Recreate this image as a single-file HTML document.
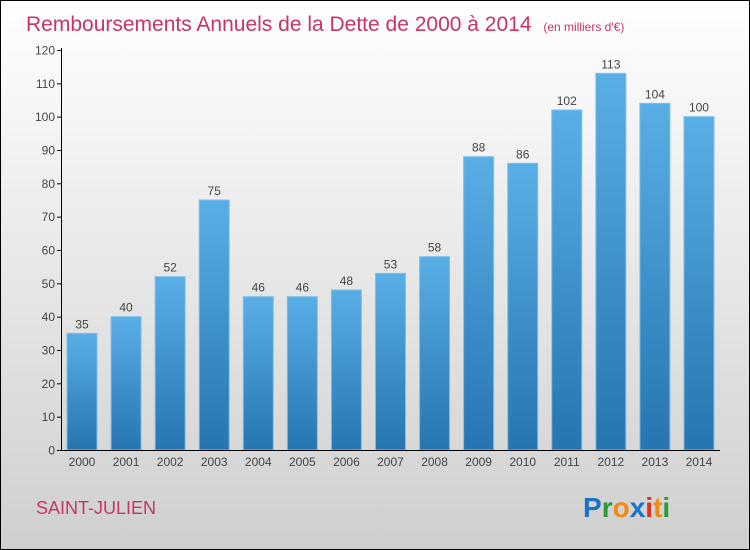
<!DOCTYPE html>
<html><head><meta charset="utf-8"><style>
body{margin:0}
svg{display:block;font-family:"Liberation Sans",sans-serif}
</style></head><body>
<svg width="750" height="550" viewBox="0 0 750 550">
<defs>
<linearGradient id="bg" x1="0" y1="0" x2="0" y2="1"><stop offset="0" stop-color="#ffffff"/><stop offset="1" stop-color="#cfcfcf"/></linearGradient>
<linearGradient id="bar" x1="0" y1="0" x2="0" y2="1"><stop offset="0" stop-color="#5aaee6"/><stop offset="1" stop-color="#2675b0"/></linearGradient>
</defs>
<rect x="0.5" y="0.5" width="749" height="549" fill="url(#bg)" stroke="#000"/>
<text x="26" y="31" font-size="21" fill="#c8336a">Remboursements Annuels de la Dette de 2000 à 2014 <tspan font-size="12" dx="6">(en milliers d'€)</tspan></text>
<g id="ticks"></g>
<g id="bars"></g>
<line x1="61.5" y1="48" x2="61.5" y2="450.5" stroke="#000"/>
<line x1="61" y1="450.5" x2="720" y2="450.5" stroke="#000"/>
<text x="36" y="514" font-size="18" fill="#c8336a">SAINT-JULIEN</text>
<text x="583" y="517" font-size="28" font-weight="bold"><tspan fill="#1a73c8">P</tspan><tspan fill="#2a9a3a">r</tspan><tspan fill="#f08a10">o</tspan><tspan fill="#1a73c8">x</tspan><tspan fill="#e03020">i</tspan><tspan fill="#f08a10">t</tspan><tspan fill="#2a9a3a">i</tspan></text>
</svg>
<script>
const years=["2000","2001","2002","2003","2004","2005","2006","2007","2008","2009","2010","2011","2012","2013","2014"];
const values=[35,40,52,75,46,46,48,53,58,88,86,102,113,104,100];
const yTicks=[0,10,20,30,40,50,60,70,80,90,100,110,120];
const NS="http://www.w3.org/2000/svg";
const y=v=>450-v*400/120;
const x=i=>82+i*44.07;
const tg=document.getElementById('ticks'),bg=document.getElementById('bars');
function mk(t,a,p){const e=document.createElementNS(NS,t);for(const k in a)e.setAttribute(k,a[k]);p.appendChild(e);return e;}
yTicks.forEach(t=>{
 const l=mk('line',{x1:57,x2:62,y1:y(t)+0.5,y2:y(t)+0.5,stroke:'#000'},tg);
 
 
 const tx=mk('text',{x:55,y:y(t)+4.5,'font-size':12,'text-anchor':'end',fill:'#444'},tg);
 tx.textContent=t;
 
 
});
values.forEach((v,i)=>{
 const r=mk('rect',{x:x(i)-15,y:y(v),width:30,height:450-y(v),fill:'url(#bar)',stroke:'#7cc0ec','stroke-width':1},bg);
 
 
 const lb=mk('text',{x:x(i),y:y(v)-5,'font-size':12,'text-anchor':'middle',fill:'#444'},bg);
 lb.textContent=v;
 
 
 const xl=mk('text',{x:x(i),y:466,'font-size':12,'text-anchor':'middle',fill:'#444'},bg);
 xl.textContent=years[i];
 
 
});
</script>
</body></html>
